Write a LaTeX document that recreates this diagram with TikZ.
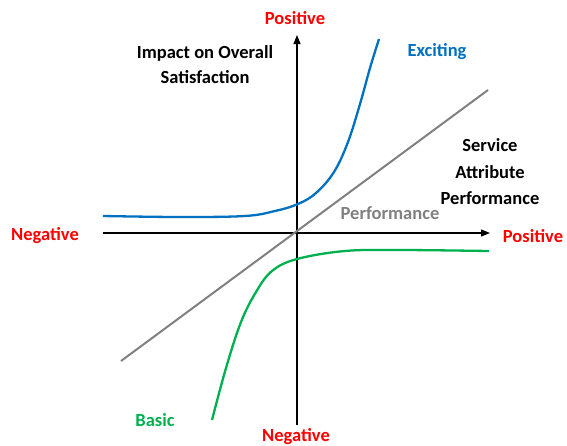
\documentclass[tikz,border=0pt]{standalone}
\usepackage{fontspec}
\setmainfont{Carlito}
\usetikzlibrary{arrows.meta}
\definecolor{kred}{RGB}{255,0,0}
\definecolor{kblue}{RGB}{0,112,192}
\definecolor{kgreen}{RGB}{0,176,80}
\definecolor{kgray}{RGB}{128,128,128}
\tikzset{
  lbl/.style={font=\bfseries\fontsize{18.5}{25}\selectfont, inner sep=0pt, align=center},
  lbl3/.style={lbl, font=\bfseries\fontsize{18.5}{26.5}\selectfont},
  axis/.style={line width=1.2pt, -{Triangle[length=9pt,width=7pt]}},
  curve/.style={line width=2.3pt, smooth, tension=0.6},
}
\begin{document}
\begin{tikzpicture}[x=1pt,y=-1pt]
\useasboundingbox (0,0) rectangle (567,445);
\coordinate (xl) at (103,233);
\coordinate (xr) at (490,233);
\coordinate (yb) at (297,425);
\coordinate (yt) at (297,35);
\coordinate (gl) at (121,361);
\coordinate (gr) at (488,90);
\draw[axis] (xl) -- (xr);
\draw[axis] (yb) -- (yt);
\draw[kgray, line width=2pt] (gl) -- (gr);
\draw[kblue, curve] plot coordinates {(103,216) (180,217) (245,216) (275,211) (298,204) (316,193) (334,172) (348,142) (360,104) (370,68) (379,39)};
\draw[kgreen, curve] plot coordinates {(212,420) (226,368) (241,322) (256,292) (272,271) (297,259) (345,251) (400,250) (489,251)};
\node[lbl, text=kred] (pt) at (295,18) {Positive};
\node[lbl, text=kred] (nb) at (296,437) {Negative};
\node[lbl, text=kred] (nl) at (45,236) {Negative};
\node[lbl, text=kred] (pr) at (533,236) {Positive};
\node[lbl] (imp) at (205,65) {Impact on Overall\\Satisfaction};
\node[lbl3] (sap) at (490,172) {Service\\Attribute\\Performance};
\node[lbl, text=kblue] (exc) at (437,52) {Exciting};
\node[lbl, text=kgray] (perf) at (390,213) {Performance};
\node[lbl, text=kgreen] (bas) at (155,420) {Basic};
\end{tikzpicture}
\end{document}
